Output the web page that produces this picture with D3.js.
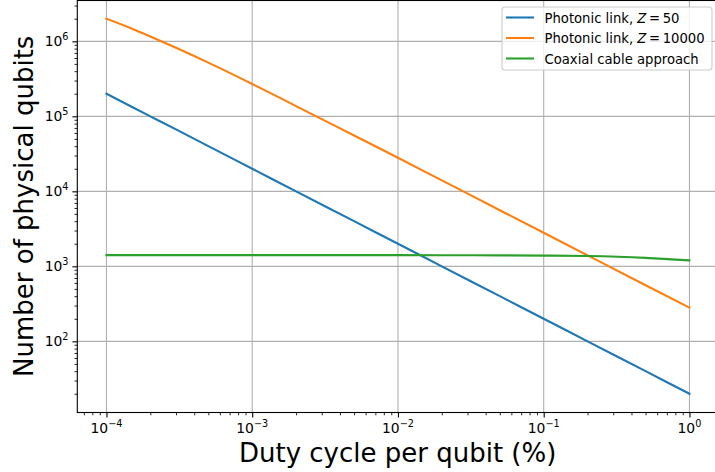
<!DOCTYPE html>
<html>
<head>
<meta charset="utf-8">
<script src="https://cdn.jsdelivr.net/npm/d3@7"></script>
<style>
  body { margin: 0; background: #fff; }
  svg { display: block; overflow: hidden; font-family: "DejaVu Sans", sans-serif; }
</style>
</head>
<body>
<div class="canvas"></div>
<script>
// duty cycle per qubit (%) sample points
const duty = [1e-4, 1.5e-4, 2e-4, 3e-4, 5e-4, 1e-3, 2e-3, 5e-3, 1e-2, 2e-2, 5e-2, 0.1, 0.2, 0.5, 1];

const photonic50 = [2.0e5, 1.33e5, 1.0e5, 6.7e4, 4.0e4, 2.0e4, 1.0e4, 4.0e3, 2.0e3, 1.0e3, 4.0e2, 2.0e2, 1.0e2, 40, 20];
const photonic10000 = [2.0e6, 1.47e6, 1.16e6, 8.2e5, 5.2e5, 2.7e5, 1.37e5, 5.55e4, 2.8e4, 1.4e4, 5.6e3, 2.8e3, 1.4e3, 560, 281];
const coaxial = [1410, 1410, 1410, 1410, 1410, 1410, 1410, 1410, 1410, 1408, 1400, 1390, 1370, 1295, 1200];

const seriesNames = ["Photonic link, ", "Photonic link, ", "Coaxial cable approach"];
const seriesMath = ["50", "10000", null];
const xTickExp = [-4, -3, -2, -1, 0];
const yTickExp = [2, 3, 4, 5, 6];

const dims = {width: 715, height: 472};
const box = {left: 77.3, top: 0, right: 718.6, bottom: 412.5};
const colours = ["#1f77b4", "#ff7f0e", "#2ca02c"];

const svg = d3.select('.canvas')
    .append('svg')
    .attr('width', dims.width)
    .attr('height', dims.height);

// matplotlib style 5% log margins
const lx = d3.extent(duty).map(Math.log10);
const allY = photonic50.concat(photonic10000, coaxial);
const ly = d3.extent(allY).map(Math.log10);
const mx = (lx[1] - lx[0]) * 0.05, my = (ly[1] - ly[0]) * 0.05;

const x = d3.scaleLog()
    .domain([Math.pow(10, lx[0] - mx), Math.pow(10, lx[1] + mx)])
    .range([box.left, box.right]);
const y = d3.scaleLog()
    .domain([Math.pow(10, ly[0] - my), Math.pow(10, ly[1] + my)])
    .range([box.bottom, box.top]);

// grid
const grid = svg.append('g');
grid.selectAll('line.gx')
    .data(xTickExp)
    .enter().append('line')
    .attr('x1', d => x(Math.pow(10, d))).attr('x2', d => x(Math.pow(10, d)))
    .attr('y1', box.top).attr('y2', box.bottom)
    .attr('stroke', '#b0b0b0').attr('stroke-width', 1.1);
grid.selectAll('line.gy')
    .data(yTickExp)
    .enter().append('line')
    .attr('y1', d => y(Math.pow(10, d))).attr('y2', d => y(Math.pow(10, d)))
    .attr('x1', box.left).attr('x2', box.right)
    .attr('stroke', '#b0b0b0').attr('stroke-width', 1.1);

// minor tick values
const minorVals = (scale) => {
    const [a, b] = scale.domain().map(Math.log10);
    const out = [];
    for (let e = Math.floor(a); e <= Math.ceil(b); e++) {
        for (let k = 2; k <= 9; k++) {
            const v = k * Math.pow(10, e);
            const lv = Math.log10(v);
            if (lv >= a && lv <= b) out.push(v);
        }
    }
    return out;
};

// lines
const line = d3.line()
    .x(d => x(d[0]))
    .y(d => y(d[1]))
    .curve(d3.curveMonotoneX);

const series = [photonic50, photonic10000, coaxial];
const plot = svg.append('g');
series.forEach((vals, i) => {
    plot.append('path')
        .datum(duty.map((d, j) => [d, vals[j]]))
        .attr('d', line)
        .attr('fill', 'none')
        .attr('stroke', colours[i])
        .attr('stroke-width', 2.1)
        .attr('stroke-linecap', 'square');
});

// axes
const xAxisG = svg.append('g').attr('transform', `translate(0, ${box.bottom})`);
xAxisG.call(d3.axisBottom(x).tickValues(xTickExp.map(e => Math.pow(10, e))).tickSize(4.9).tickFormat(''));
xAxisG.append('g').call(d3.axisBottom(x).tickValues(minorVals(x)).tickSize(2.8).tickFormat(''))
    .selectAll('line').attr('stroke-width', 0.85);
xAxisG.selectAll('.domain').remove();

const yAxisG = svg.append('g').attr('transform', `translate(${box.left}, 0)`);
yAxisG.call(d3.axisLeft(y).tickValues(yTickExp.map(e => Math.pow(10, e))).tickSize(4.9).tickFormat(''));
yAxisG.append('g').call(d3.axisLeft(y).tickValues(minorVals(y)).tickSize(2.8).tickFormat(''))
    .selectAll('line').attr('stroke-width', 0.85);
yAxisG.selectAll('.domain').remove();
svg.selectAll('.tick line').attr('stroke', '#000');
xAxisG.selectAll(':scope > .tick line').attr('stroke-width', 1.1);
yAxisG.selectAll(':scope > .tick line').attr('stroke-width', 1.1);

// tick labels with superscripts
const powLabel = (sel, e) => {
    sel.append('tspan').text('10');
    sel.append('tspan')
        .attr('font-size', 9.7)
        .attr('dy', -6)
        .text(e < 0 ? '\u2212' + Math.abs(e) : e);
};
xTickExp.forEach(e => {
    const t = svg.append('text')
        .attr('x', x(Math.pow(10, e)))
        .attr('y', 433)
        .attr('text-anchor', 'middle')
        .attr('font-size', 13.9);
    powLabel(t, e);
});
yTickExp.forEach(e => {
    const t = svg.append('text')
        .attr('x', 68.5)
        .attr('y', y(Math.pow(10, e)) + 5)
        .attr('text-anchor', 'end')
        .attr('font-size', 13.9);
    powLabel(t, e);
});

// spines (right one falls outside the crop)
svg.append('rect')
    .attr('x', box.left).attr('y', box.top + 0.5)
    .attr('width', box.right - box.left).attr('height', box.bottom - box.top - 0.5)
    .attr('fill', 'none').attr('stroke', '#000').attr('stroke-width', 1.1);

// axis labels
svg.append('text')
    .attr('x', (box.left + box.right) / 2 - 0.3)
    .attr('y', 462)
    .attr('text-anchor', 'middle')
    .attr('font-size', 26)
    .text('Duty cycle per qubit (%)');
svg.append('text')
    .attr('transform', `translate(33, ${(box.top + box.bottom) / 2}) rotate(-90)`)
    .attr('text-anchor', 'middle')
    .attr('font-size', 26)
    .text('Number of physical qubits');

// legend
const leg = svg.append('g');
leg.append('rect')
    .attr('x', 502).attr('y', 7)
    .attr('width', 210).attr('height', 63)
    .attr('rx', 3)
    .attr('fill', 'rgba(255,255,255,0.8)')
    .attr('stroke', '#cccccc').attr('stroke-width', 1.1);
seriesNames.forEach((name, i) => {
    const cy = 17.5 + i * 20.5;
    leg.append('line')
        .attr('x1', 506).attr('x2', 534)
        .attr('y1', cy).attr('y2', cy)
        .attr('stroke', colours[i]).attr('stroke-width', 2.1);
    const t = leg.append('text')
        .attr('x', 544.5).attr('y', cy + 5)
        .attr('font-size', 13.2)
        .text(name);
    if (seriesMath[i]) {
        t.append('tspan').attr('font-style', 'italic').text('Z');
        t.append('tspan').text('\u2009=\u2009' + seriesMath[i]);
    }
});
</script>
</body>
</html>
